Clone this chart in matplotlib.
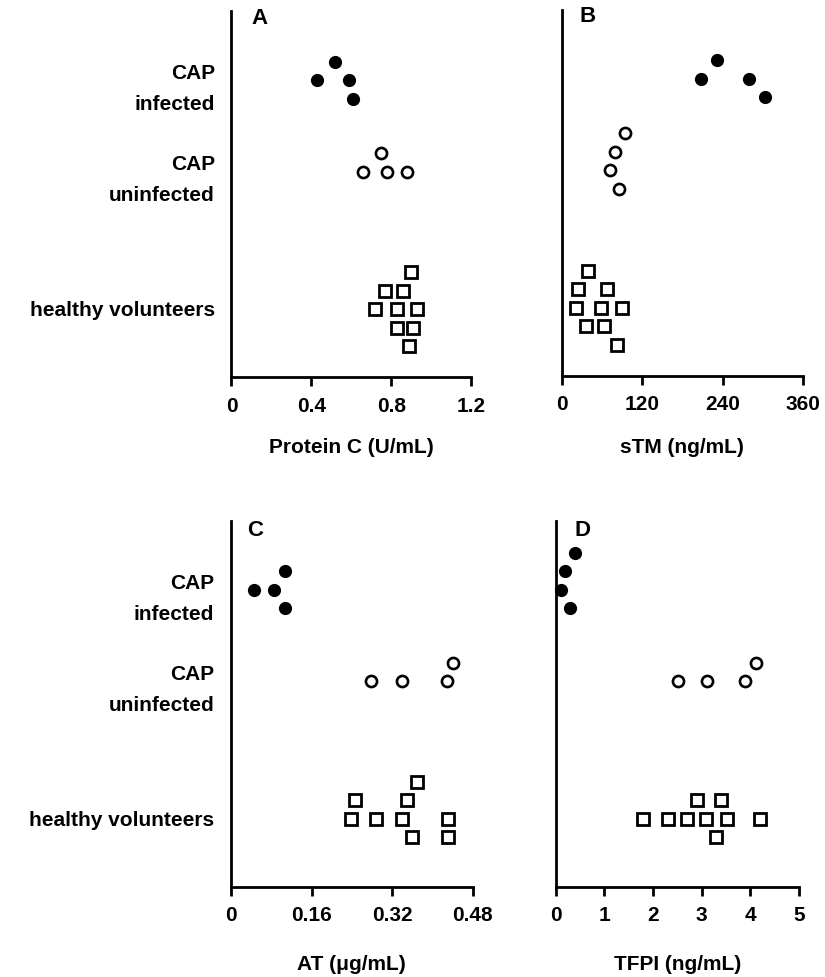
import matplotlib

matplotlib.use("Agg")
import matplotlib.pyplot as plt

# group labels (y axis, top to bottom)
groups = ["CAP\ninfected", "CAP\nuninfected", "healthy volunteers"]

# Panel A - Protein C (U/mL)
protc_inf = [0.52, 0.43, 0.59, 0.61]
protc_inf_rows = [-1, 0, 0, 1]
protc_uninf = [0.75, 0.66, 0.78, 0.88]
protc_uninf_rows = [-0.5, 0.5, 0.5, 0.5]
protc_hv = [0.90, 0.77, 0.86, 0.72, 0.83, 0.93, 0.83, 0.91, 0.89]
protc_hv_rows = [-2, -1, -1, 0, 0, 0, 1, 1, 2]

# Panel B - sTM (ng/mL)
stm_inf = [232, 208, 279, 304]
stm_inf_rows = [-1, 0, 0, 1]
stm_uninf = [95, 79, 72, 86]
stm_uninf_rows = [-1.5, -0.5, 0.5, 1.5]
stm_hv = [39, 25, 67, 21, 58, 90, 36, 63, 82]
stm_hv_rows = [-2, -1, -1, 0, 0, 0, 1, 1, 2]

# Panel C - AT (ug/mL)
at_inf = [0.107, 0.045, 0.086, 0.107]
at_inf_rows = [-1, 0, 0, 1]
at_uninf = [0.441, 0.278, 0.339, 0.430]
at_uninf_rows = [-0.5, 0.5, 0.5, 0.5]
at_hv = [0.370, 0.247, 0.349, 0.238, 0.288, 0.339, 0.431, 0.359, 0.431]
at_hv_rows = [-2, -1, -1, 0, 0, 0, 0, 1, 1]

# Panel D - TFPI (ng/mL)
tfpi_inf = [0.40, 0.19, 0.10, 0.29]
tfpi_inf_rows = [-2, -1, 0, 1]
tfpi_uninf = [4.11, 2.51, 3.10, 3.90]
tfpi_uninf_rows = [-0.5, 0.5, 0.5, 0.5]
tfpi_hv = [2.91, 3.40, 1.79, 2.30, 2.70, 3.09, 3.51, 4.20, 3.30]
tfpi_hv_rows = [-1, -1, 0, 0, 0, 0, 0, 0, 1]

# y layout in "row" units (one marker row each), axis top = 0
GROUP_CENTERS = [3.73, 8.19, 16.11]
LABEL_POS = [3.72, 8.66, 16.05]
Y_BOTTOM = 19.78

plt.rcParams["font.family"] = ["Liberation Sans", "DejaVu Sans"]
plt.rcParams["font.weight"] = "bold"
plt.rcParams["font.size"] = 15

W, H = 825, 978
fig = plt.figure(figsize=(W / 100, H / 100), dpi=100)


def add_axes(left, right, top, bottom):
    return fig.add_axes([left / W, 1 - bottom / H, (right - left) / W, (bottom - top) / H])


def draw_panel(ax, series, xmax, xticks, ticklabels, xlabel, letter, letter_xy, show_groups, labelpad):
    styles = [
        dict(marker="o", markersize=9.5, markerfacecolor="black", markeredgewidth=0),
        dict(marker="o", markersize=8, markerfacecolor="white", markeredgecolor="black", markeredgewidth=1.9),
        dict(marker="s", markersize=8.3, markerfacecolor="white", markeredgecolor="black", markeredgewidth=2.0),
    ]
    for gi, (vals, rows) in enumerate(series):
        ys = [GROUP_CENTERS[gi] + r for r in rows]
        ax.plot(vals, ys, linestyle="none", clip_on=False, zorder=3, **styles[gi])

    ax.set_xlim(0, xmax)
    ax.set_ylim(Y_BOTTOM, 0)
    ax.set_xticks(xticks)
    ax.set_xticklabels(ticklabels)
    ax.set_xlabel(xlabel, labelpad=labelpad, fontweight="bold")
    for s in ["top", "right"]:
        ax.spines[s].set_visible(False)
    for s in ["left", "bottom"]:
        ax.spines[s].set_linewidth(2.0)
    ax.tick_params(axis="x", direction="out", length=6.5, width=2.0, pad=7)
    if show_groups:
        ax.set_yticks(LABEL_POS)
        ax.set_yticklabels(groups, ha="right")
        ax.tick_params(axis="y", length=0, pad=12)
        for t in ax.get_yticklabels():
            t.set_linespacing(1.8)
            t.set_multialignment("right")
    else:
        ax.set_yticks([])
    fig.text(letter_xy[0] / W, 1 - letter_xy[1] / H, letter, ha="center", va="center",
             fontsize=16, fontweight="bold")


ax_a = add_axes(231.5, 471, 12, 378)
draw_panel(ax_a, [(protc_inf, protc_inf_rows), (protc_uninf, protc_uninf_rows), (protc_hv, protc_hv_rows)],
           1.2, [0, 0.4, 0.8, 1.2], ["0", "0.4", "0.8", "1.2"], "Protein C (U/mL)", "A", (260, 18), True, 16)

ax_b = add_axes(561.7, 803, 10.5, 376.5)
draw_panel(ax_b, [(stm_inf, stm_inf_rows), (stm_uninf, stm_uninf_rows), (stm_hv, stm_hv_rows)],
           360, [0, 120, 240, 360], ["0", "120", "240", "360"], "sTM (ng/mL)", "B", (588, 17), False, 17)

ax_c = add_axes(231, 472.5, 521.7, 887.7)
draw_panel(ax_c, [(at_inf, at_inf_rows), (at_uninf, at_uninf_rows), (at_hv, at_hv_rows)],
           0.48, [0, 0.16, 0.32, 0.48], ["0", "0.16", "0.32", "0.48"], "AT (\u03bcg/mL)", "C", (255, 530), True, 21)

ax_d = add_axes(555.8, 799, 521.7, 887.7)
draw_panel(ax_d, [(tfpi_inf, tfpi_inf_rows), (tfpi_uninf, tfpi_uninf_rows), (tfpi_hv, tfpi_hv_rows)],
           5, [0, 1, 2, 3, 4, 5], ["0", "1", "2", "3", "4", "5"], "TFPI (ng/mL)", "D", (583, 530), False, 21)

fig.savefig("out.png", dpi=100)
